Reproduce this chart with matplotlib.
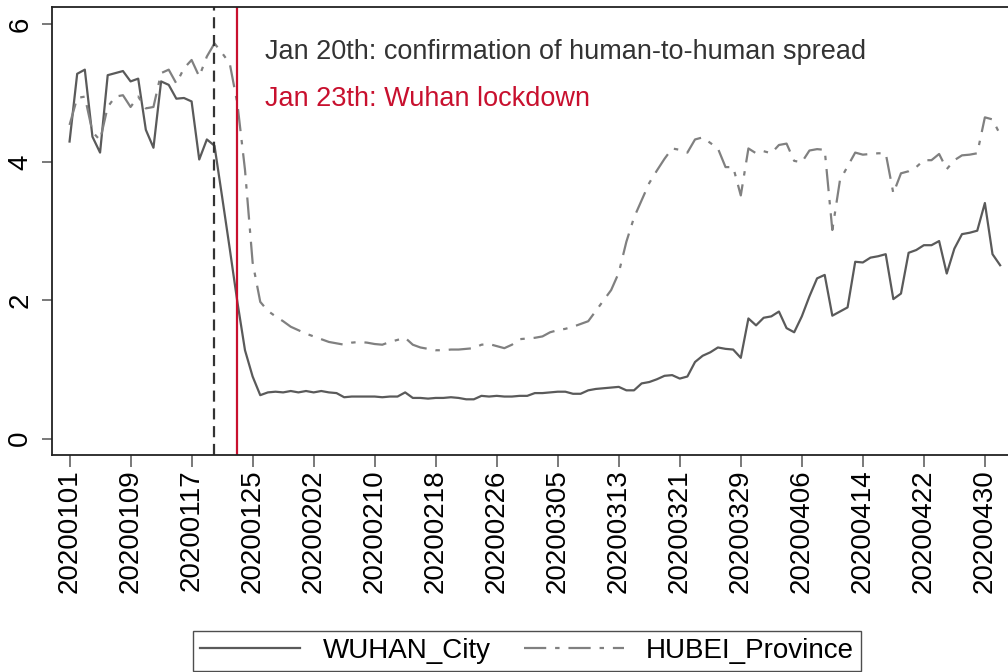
import pandas as pd
import matplotlib.pyplot as plt

plt.rcParams['font.family'] = ['Liberation Sans', 'DejaVu Sans']

# Daily dates, Jan 1 - May 2 2020
dates = pd.date_range('2020-01-01', '2020-05-02', freq='D').strftime('%Y%m%d').tolist()

wuhan = [4.30, 5.28, 5.34, 4.37, 4.14, 5.26, 5.29, 5.32, 5.17, 5.21,
         4.47, 4.21, 5.17, 5.12, 4.92, 4.93, 4.88, 4.04, 4.33, 4.24,
         3.50, 2.75, 1.98, 1.28, 0.90, 0.63, 0.67, 0.68, 0.67, 0.69,
         0.67, 0.69, 0.67, 0.69, 0.67, 0.66, 0.60, 0.61, 0.61, 0.61,
         0.61, 0.60, 0.61, 0.61, 0.67, 0.59, 0.59, 0.58, 0.59, 0.59,
         0.60, 0.59, 0.57, 0.57, 0.62, 0.61, 0.62, 0.61, 0.61, 0.62,
         0.62, 0.66, 0.66, 0.67, 0.68, 0.68, 0.65, 0.65, 0.70, 0.72,
         0.73, 0.74, 0.75, 0.70, 0.70, 0.80, 0.82, 0.86, 0.91, 0.92,
         0.87, 0.90, 1.11, 1.20, 1.25, 1.32, 1.30, 1.29, 1.17, 1.74,
         1.64, 1.75, 1.77, 1.84, 1.60, 1.54, 1.77, 2.06, 2.32, 2.37,
         1.78, 1.84, 1.90, 2.56, 2.55, 2.62, 2.64, 2.67, 2.02, 2.10,
         2.69, 2.73, 2.80, 2.80, 2.86, 2.39, 2.75, 2.96, 2.98, 3.01,
         3.41, 2.67, 2.51]

hubei = [4.54, 4.93, 4.95, 4.44, 4.32, 4.80, 4.95, 4.97, 4.80, 4.95,
         4.78, 4.80, 5.29, 5.34, 5.14, 5.36, 5.48, 5.24, 5.53, 5.72,
         5.58, 5.43, 4.85, 3.89, 2.55, 1.98, 1.85, 1.77, 1.70, 1.62,
         1.57, 1.52, 1.48, 1.44, 1.40, 1.38, 1.36, 1.39, 1.40, 1.39,
         1.37, 1.36, 1.40, 1.43, 1.46, 1.36, 1.32, 1.30, 1.28, 1.28,
         1.29, 1.29, 1.30, 1.31, 1.36, 1.37, 1.34, 1.31, 1.36, 1.44,
         1.45, 1.46, 1.48, 1.54, 1.57, 1.59, 1.62, 1.66, 1.70, 1.85,
         2.00, 2.15, 2.40, 2.85, 3.20, 3.45, 3.70, 3.88, 4.05, 4.20,
         4.18, 4.14, 4.33, 4.36, 4.28, 4.20, 3.93, 3.93, 3.52, 4.20,
         4.13, 4.16, 4.13, 4.25, 4.27, 4.02, 4.00, 4.17, 4.19, 4.18,
         3.02, 3.74, 3.94, 4.14, 4.11, 4.12, 4.13, 4.13, 3.55, 3.84,
         3.87, 3.93, 4.03, 4.03, 4.12, 3.90, 4.03, 4.10, 4.11, 4.13,
         4.65, 4.62, 4.40]

events = ['20200120', '20200123']
event_labels = ['Jan 20th: confirmation of human-to-human spread',
                'Jan 23th: Wuhan lockdown']

x = list(range(len(dates)))

fig = plt.figure(figsize=(10.08, 6.72), dpi=100)
ax = fig.add_axes([0.0516, 0.3229, 0.958, 0.666])

ax.plot(x, wuhan, color='#5a5a5a', lw=1.6, label='WUHAN_City')
ax.plot(x, hubei, color='#808080', lw=1.6, linestyle=(0, (10, 4, 2, 4)),
        label='HUBEI_Province')

ax.axvline(dates.index(events[0]), color='#333333', lw=1.6, linestyle=(0, (5, 3)))
ax.axvline(dates.index(events[1]), color='#c8102e', lw=1.6)

ax.text(25.6, 5.60, event_labels[0], color='#333333', fontsize=19.5, va='center')
ax.text(25.6, 4.91, event_labels[1], color='#c8102e', fontsize=19.5, va='center')

ax.set_xlim(-2.3, 124.3)
ax.set_ylim(-0.236, 6.24)
ax.set_xticks(x[::8])
ax.set_xticklabels(dates[::8], rotation=90, fontsize=20)
ax.set_yticks([0, 2, 4, 6])
ax.set_yticklabels(['0', '2', '4', '6'], rotation=90, fontsize=20, va='center')
ax.tick_params(axis='x', length=8.5, width=1.1, color='#555555', pad=2)
ax.tick_params(axis='y', length=7.5, width=1.1, color='#555555', pad=6)
for s in ax.spines.values():
    s.set_linewidth(1.3)
    s.set_color('#222222')

fig.legend(loc='upper center', bbox_to_anchor=(0.523, 1 - 617 / 672), ncol=2,
           fontsize=20, frameon=True, fancybox=False, edgecolor='#222222',
           handlelength=3.6, columnspacing=1.2, borderpad=0.25)

fig.savefig('out.png', dpi=100)
